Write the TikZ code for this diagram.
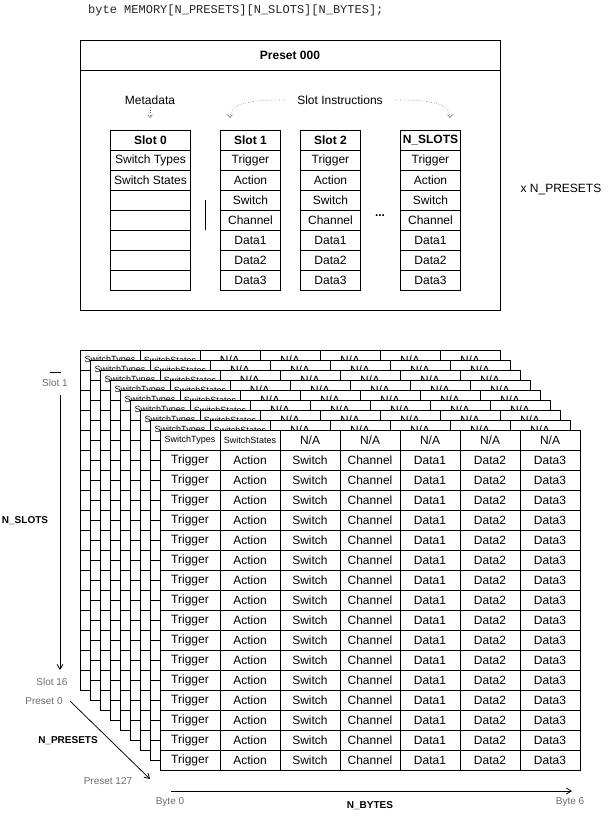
\documentclass[tikz,border=0pt]{standalone}
\usepackage{fontspec}
\setmainfont{Liberation Sans}
\newfontfamily\codefont{Liberation Mono}
\usetikzlibrary{arrows.meta}
\definecolor{labgray}{RGB}{110,110,110}
\definecolor{dotgray}{RGB}{120,120,120}
\tikzset{
  cellbox/.style={draw, line width=0.9pt, minimum width=#1, minimum height=20pt, inner sep=0pt, anchor=north west, font=\fontsize{12}{14}\selectfont},
  celltxt/.style={inner sep=0pt, font=\fontsize{12}{14}\selectfont},
  smalltxt/.style={inner sep=0pt, font=\fontsize{9}{11}\selectfont},
  labtxt/.style={inner sep=0pt, text=labgray, font=\fontsize{10}{12}\selectfont},
  boldlab/.style={inner sep=0pt, font=\fontsize{10}{12}\selectfont\bfseries},
  gridline/.style={line width=0.9pt},
  axisarrow/.style={line width=0.75pt, -{Straight Barb[length=5pt,width=6pt]}},
  dotarrow/.style={line width=0.6pt, dotgray, dotted, -{Straight Barb[length=3pt,width=5pt]}},
}
\begin{document}
\begin{tikzpicture}[x=1pt,y=-1pt]
\useasboundingbox (0,0) rectangle (610,820);
\fill[white] (0,0) rectangle (610,820);

% code line
\node[anchor=west, inner sep=0pt, text=black!85, font=\codefont\fontsize{12}{14}\selectfont] (code) at (88,10) {byte MEMORY[N\_PRESETS][N\_SLOTS][N\_BYTES];};

% preset box
\node[draw, line width=0.9pt, minimum width=420pt, minimum height=270pt, inner sep=0pt, anchor=north west] (preset) at (80,40) {};
\coordinate (hl) at (80,70);
\coordinate (hr) at (500,70);
\draw[gridline] (hl) -- (hr);
\node[celltxt, font=\fontsize{12}{14}\selectfont\bfseries] (ptitle) at (290,55) {Preset 000};

\node[celltxt] (meta) at (150,100) {Metadata};
\node[celltxt] (si) at (340,100) {Slot Instructions};
\coordinate (metaend) at (150,118);
\coordinate (lend) at (230,118);
\coordinate (rend) at (450,118);
\coordinate (lstart) at (285,100);
\coordinate (rstart) at (395,100);
\draw[dotarrow] (150,107) -- (metaend);
\draw[dotarrow] (lstart) .. controls (245,100) and (230,104) .. (lend);
\draw[dotarrow] (rstart) .. controls (435,100) and (450,104) .. (rend);

% slot columns
\foreach [count=\i] \t in {{\bfseries Slot 0},Switch Types,Switch States,,,,,}
  \node[cellbox=80pt] (s0-\i) at (110,110+20*\i) {\t};
\foreach [count=\i] \t in {{\bfseries Slot 1},Trigger,Action,Switch,Channel,Data1,Data2,Data3}
  \node[cellbox=60pt] (s1-\i) at (220,110+20*\i) {\t};
\foreach [count=\i] \t in {{\bfseries Slot 2},Trigger,Action,Switch,Channel,Data1,Data2,Data3}
  \node[cellbox=60pt] (s2-\i) at (300,110+20*\i) {\t};
\foreach [count=\i] \t in {{\bfseries N\_SLOTS},Trigger,Action,Switch,Channel,Data1,Data2,Data3}
  \node[cellbox=60pt] (sn-\i) at (400,110+20*\i) {\t};
\coordinate (sepa) at (205,200);
\coordinate (sepb) at (205,230);
\draw[gridline] (sepa) -- (sepb);
\node[celltxt, font=\fontsize{12}{14}\selectfont\bfseries] (dots) at (380,216) {...};

\node[celltxt] (xn) at (561,189) {x N\_PRESETS};

% stacked back tables
\foreach \k in {0,...,7} {
  \begin{scope}[shift={(80+10*\k,350+10*\k)}]
    \fill[white] (0,0) rectangle (420,340);
    \draw[gridline] (0,0) rectangle (420,340);
    \foreach \r in {1,...,16} \draw[gridline] (0,20*\r) -- (420,20*\r);
    \foreach \c in {1,...,6} \draw[gridline] (60*\c,0) -- (60*\c,340);
    \node[smalltxt] (b\k-1) at (30,10) {SwitchTypes};
    \node[smalltxt] (b\k-2) at (90,10) {SwitchStates};
    \foreach \c in {3,...,7} \node[celltxt] (b\k-\c) at (60*\c-30,10) {N/A};
  \end{scope}
}
% front table
\begin{scope}[shift={(160,430)}]
  \fill[white] (0,0) rectangle (420,340);
  \draw[gridline] (0,0) rectangle (420,340);
  \foreach \r in {1,...,16} \draw[gridline] (0,20*\r) -- (420,20*\r);
  \foreach \c in {1,...,6} \draw[gridline] (60*\c,0) -- (60*\c,340);
  \node[smalltxt] (f-1) at (30,10) {SwitchTypes};
  \node[smalltxt] (f-2) at (90,10) {SwitchStates};
  \foreach \c in {3,...,7} \node[celltxt] (f-\c) at (60*\c-30,10) {N/A};
  \foreach \r in {1,...,16}
    \foreach [count=\c] \t in {Trigger,Action,Switch,Channel,Data1,Data2,Data3}
      \node[celltxt] (f\r-\c) at (60*\c-30,20*\r+10) {\t};
\end{scope}

% axes
\coordinate (tka) at (50,372);
\coordinate (tkb) at (61,372);
\draw[gridline] (tka) -- (tkb);
\node[labtxt] (slot1) at (55,383) {Slot 1};
\coordinate (va) at (60,395);
\coordinate (vb) at (60,670);
\draw[axisarrow] (va) -- (vb);
\node[boldlab] (nslots) at (25,521) {N\_SLOTS};
\node[labtxt] (slot16) at (52,682) {Slot 16};
\node[labtxt] (pre0) at (44,701) {Preset 0};
\coordinate (da) at (70,701);
\coordinate (db) at (150,779);
\draw[axisarrow] (da) -- (db);
\node[boldlab] (npre) at (68,741) {N\_PRESETS};
\node[labtxt] (pre127) at (108,781) {Preset 127};
\coordinate (ha) at (171,791);
\coordinate (hb) at (572,791);
\draw[axisarrow] (ha) -- (hb);
\node[labtxt] (byte0) at (170,802) {Byte 0};
\node[labtxt] (byte6) at (570,802) {Byte 6};
\node[boldlab] (nbytes) at (370,806) {N\_BYTES};
\end{tikzpicture}
\end{document}
